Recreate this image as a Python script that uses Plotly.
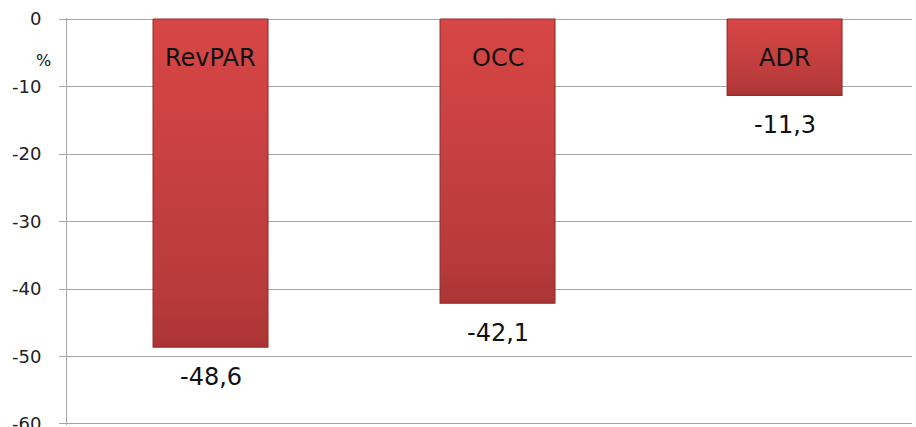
import plotly.graph_objects as go

# Year-on-year change of hotel performance indicators (%)
categories = ["RevPAR", "OCC", "ADR"]
changes = [-48.6, -42.1, -11.3]
y_ticks = [0, -10, -20, -30, -40, -50, -60]

FONT = "DejaVu Sans"
BAR_WIDTH = 0.40

fig = go.Figure()

# each bar is a filled rectangle so it can carry a vertical shading
for i, (cat, val) in enumerate(zip(categories, changes)):
    x0, x1 = i - BAR_WIDTH / 2, i + BAR_WIDTH / 2
    fig.add_trace(go.Scatter(
        x=[x0, x1, x1, x0, x0],
        y=[0, 0, val, val, 0],
        mode="lines",
        line=dict(color="#962b2b", width=1.2),
        fill="toself",
        fillgradient=dict(type="vertical",
                          colorscale=[[0, "#aa3434"], [0.15, "#b83a3a"],
                                      [0.6, "#c94141"], [1, "#d84646"]]),
        name=cat,
        hoverinfo="name+y",
    ))

# category names inside the top of each bar
for i, cat in enumerate(categories):
    fig.add_annotation(x=i, y=0, text=cat, showarrow=False,
                       yanchor="top", yshift=-23,
                       font=dict(family=FONT, size=24, color="#111111"))

# value labels below each bar, in decimal-comma format
for i, val in enumerate(changes):
    fig.add_annotation(x=i, y=val, text=f"{val:.1f}".replace(".", ","),
                       showarrow=False, yanchor="top", yshift=-14,
                       font=dict(family=FONT, size=24, color="#111111"))

# unit label next to the value axis
fig.add_annotation(xref="paper", x=-0.028, y=-6.1, text="%", showarrow=False,
                   xanchor="center", yanchor="middle",
                   font=dict(family=FONT, size=16, color="#111111"))

fig.update_layout(
    width=916, height=427,
    margin=dict(l=67, r=4, t=18, b=2),
    paper_bgcolor="white", plot_bgcolor="white",
    showlegend=False,
    font=dict(family=FONT, size=18, color="#222222"),
)
fig.update_xaxes(range=[-0.5, 2.444], showticklabels=False, showgrid=False,
                 zeroline=False, showline=False, ticks="", automargin=False)
fig.update_yaxes(range=[-60.15, 0.15], tickvals=y_ticks,
                 ticktext=[str(v) for v in y_ticks],
                 showgrid=True, gridcolor="#a6a6a6", gridwidth=1,
                 zeroline=False, showline=True, linecolor="#a6a6a6",
                 linewidth=1, ticks="outside", ticklen=7,
                 tickcolor="#a6a6a6", ticklabelstandoff=14,
                 ticklabeloverflow="allow", automargin=False,
                 tickfont=dict(family=FONT, size=18, color="#222222"))

fig.write_html("out.html")
